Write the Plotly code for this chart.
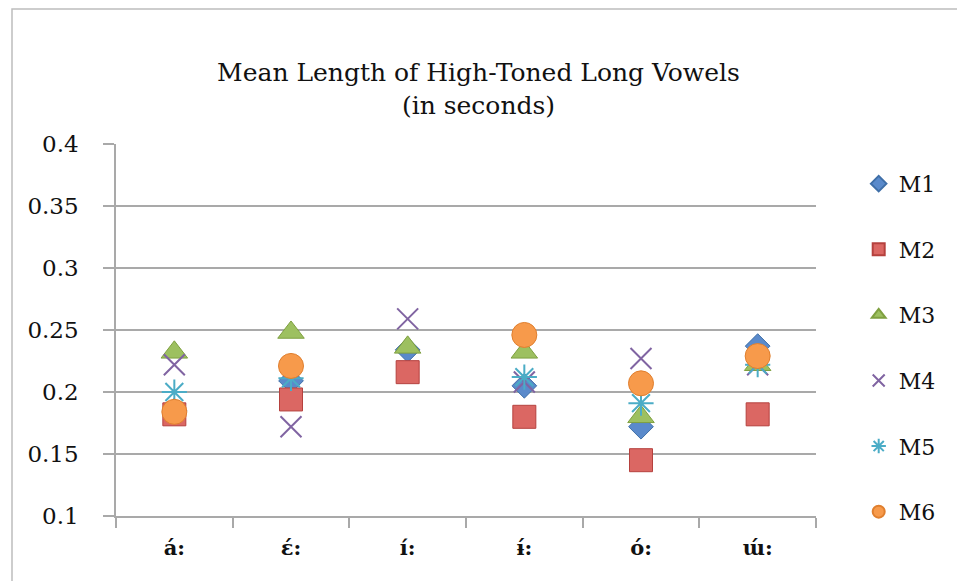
import plotly.graph_objects as go

# Vowel categories on the x axis
vowels = ["á:", "ɛ́:", "í:", "ɨ́:", "ó:", "ɯ́:"]

# Mean vowel length (seconds) per speaker; None = no measurement
m1 = [0.185, 0.209, 0.234, 0.205, 0.172, 0.237]
m2 = [0.182, 0.194, 0.216, 0.180, 0.145, 0.182]
m3 = [0.232, 0.248, 0.236, 0.232, 0.180, 0.222]
m4 = [0.222, 0.172, 0.259, 0.208, 0.227, 0.222]
m5 = [0.200, 0.211, None, 0.212, 0.191, 0.222]
m6 = [0.184, 0.221, None, 0.246, 0.207, 0.229]

series_names = ["M1", "M2", "M3", "M4", "M5", "M6"]

y_tick_vals = [0.1, 0.15, 0.2, 0.25, 0.3, 0.35, 0.4]
y_tick_text = ["0.1", "0.15", "0.2", "0.25", "0.3", "0.35", "0.4"]

SERIF = "DejaVu Serif"
GRID = "#A9A9A9"
INK = "#111111"

styles = [
    dict(symbol="diamond", size=19, color="#5A8ACB", line=dict(color="#3F6FA8", width=1)),
    dict(symbol="square", size=23, color="#DB6763", line=dict(color="#B5413E", width=1)),
    dict(symbol="triangle-up", size=23, color="#9DC060", line=dict(color="#7FA040", width=1)),
    dict(symbol="x-thin-open", size=21, color="#8064A2", line=dict(color="#8064A2", width=2)),
    dict(symbol="asterisk-open", size=21, color="#4BACC6", line=dict(color="#4BACC6", width=2)),
    dict(symbol="circle", size=25, color="#F79A4B", line=dict(color="#E07F2E", width=1)),
]

fig = go.Figure()
for name, vals, st in zip(series_names, [m1, m2, m3, m4, m5, m6], styles):
    fig.add_trace(go.Scatter(
        x=vowels, y=vals, name=name, mode="markers",
        legendgroup=name,
        marker=dict(symbol=st["symbol"], size=st["size"], color=st["color"],
                    line=st["line"]),
    ))

fig.update_layout(
    width=957, height=581,
    margin=dict(l=116, r=141, t=144, b=65),
    paper_bgcolor="white", plot_bgcolor="white",
    font=dict(family=SERIF, color=INK),
    title=dict(
        text="Mean Length of High-Toned Long Vowels<br>(in seconds)",
        x=0.5, xref="container", xanchor="center",
        y=1 - 81 / 581, yref="container", yanchor="middle",
        font=dict(family=SERIF, size=25, color=INK),
    ),
    showlegend=True,
    legend=dict(
        x=1.061, xanchor="left", y=0.452, yanchor="middle",
        font=dict(family=SERIF, size=22, color=INK),
        tracegroupgap=34, itemsizing="constant",
        bgcolor="rgba(0,0,0,0)",
    ),
    xaxis=dict(
        type="category", showline=True, linecolor=GRID, linewidth=1.5,
        ticks="outside", tickson="boundaries", ticklen=10, tickcolor=GRID, tickwidth=1.5,
        showgrid=False, range=[-0.5, 5.5],
        tickfont=dict(family=SERIF, size=21, color=INK, weight="bold"),
        ticklabelstandoff=12,
    ),
    yaxis=dict(
        range=[0.1, 0.4], tickvals=y_tick_vals, ticktext=y_tick_text,
        showline=True, linecolor=GRID, linewidth=1.5,
        ticks="outside", ticklen=11, tickcolor=GRID, tickwidth=1.5,
        showgrid=True, gridcolor=GRID, gridwidth=1.5, zeroline=False,
        tickfont=dict(family=SERIF, size=23, color=INK),
        ticklabelstandoff=20,
    ),
    shapes=[dict(
        type="rect", xref="paper", yref="paper",
        x0=(12 - 116) / 700, x1=(990 - 116) / 700,
        y0=(516 - 620) / 372, y1=(516 - 9) / 372,
        line=dict(color="#BDBDBD", width=1.5), fillcolor="rgba(0,0,0,0)", layer="below",
    )],
)

fig.write_html("out.html")
